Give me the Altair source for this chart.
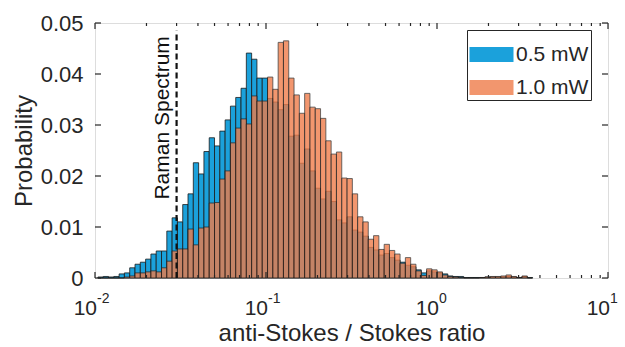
import altair as alt
import pandas as pd

# ---- histogram data (bins are uniform in log10 space) ----
series_names = ["0.5 mW", "1.0 mW"]
first_edge_log10 = -1.983
bin_width_log10 = 0.031

prob_05mw = [
    0.0002, 0.0003, 0.0002, 0.0003, 0.0008, 0.0010, 0.0020, 0.0027, 0.0031, 0.0037,
    0.0047, 0.0053, 0.0053, 0.0092, 0.0118, 0.0110, 0.0144, 0.0165, 0.0226, 0.0204,
    0.0248, 0.0275, 0.0259, 0.0288, 0.0310, 0.0337, 0.0354, 0.0372, 0.0441, 0.0429,
    0.0392, 0.0392, 0.0352, 0.0345, 0.0330, 0.0340, 0.0278, 0.0280, 0.0225, 0.0253,
    0.0210, 0.0176, 0.0155, 0.0170, 0.0150, 0.0114, 0.0108, 0.0120, 0.0094, 0.0090,
    0.0082, 0.0060, 0.0055, 0.0045, 0.0048, 0.0040, 0.0035, 0.0031, 0.0025, 0.0022,
    0.0016, 0.0010, 0.0014, 0.0012, 0.0010, 0.0008, 0.0004, 0.0003, 0.0003, 0.0001,
    0.0001, 0.0001, 0.0001, 0.0002, 0.0002, 0.0002, 0.0002, 0.0003, 0.0002, 0.0001,
    0.0003, 0.0001,
]
prob_10mw = [
    0.0, 0.0, 0.0, 0.0, 0.0, 0.0002, 0.0004, 0.0010, 0.0010, 0.0012,
    0.0014, 0.0012, 0.0020, 0.0033, 0.0053, 0.0057, 0.0057, 0.0096, 0.0065, 0.0098,
    0.0100, 0.0147, 0.0148, 0.0194, 0.0210, 0.0265, 0.0294, 0.0312, 0.0302, 0.0357,
    0.0347, 0.0347, 0.0394, 0.0370, 0.0462, 0.0465, 0.0392, 0.0359, 0.0323, 0.0362,
    0.0335, 0.0332, 0.0313, 0.0269, 0.0243, 0.0247, 0.0196, 0.0195, 0.0165, 0.0120,
    0.0110, 0.0076, 0.0083, 0.0056, 0.0066, 0.0054, 0.0047, 0.0029, 0.0040, 0.0027,
    0.0014, 0.0005, 0.0018, 0.0016, 0.0012, 0.0006, 0.0003, 0.0002, 0.0001, 0.0,
    0.0, 0.0, 0.0001, 0.0002, 0.0003, 0.0003, 0.0004, 0.0006, 0.0003, 0.0001,
    0.0004, 0.0,
]

# ---- axes / annotation ----
x_tick_values = [0.01, 0.1, 1, 10]
x_tick_bases = ["10", "10", "10", "10"]
x_tick_exponents = ["-2", "-1", "0", "1"]
x_minor_ticks = [m * 10.0 ** e for e in (-2, -1, 0) for m in range(2, 10)]
y_tick_values = [0, 0.01, 0.02, 0.03, 0.04, 0.05]
raman_position = 0.03
raman_line_top = 0.0485
raman_label = "Raman Spectrum"
raman_label_y = 0.0314

BLUE = "#1BA1DB"
ORANGE = "#EF7C4A"
INK = "#262626"
FONT = "Liberation Sans"
W, H = 513, 255

rows = []
for name, vals in zip(series_names, [prob_05mw, prob_10mw]):
    for k, v in enumerate(vals):
        rows.append({
            "series": name,
            "lo": 10 ** (first_edge_log10 + k * bin_width_log10),
            "hi": 10 ** (first_edge_log10 + (k + 1) * bin_width_log10),
            "p": v,
        })
hist = pd.DataFrame(rows)

xs = alt.Scale(type="log", domain=[0.01, 10], nice=False)
ys = alt.Scale(domain=[0, 0.05], nice=False)

x_axis = alt.Axis(
    values=x_tick_values, labels=False,
    title="anti-Stokes / Stokes ratio", titleFont=FONT, titleFontSize=24,
    titleFontWeight="normal", titleColor=INK, titleBaseline="alphabetic",
    titleY=62, titleX=W / 2,
    domain=False, ticks=False, grid=False)
y_axis = alt.Axis(
    values=y_tick_values,
    labelExpr="datum.value == 0 ? '0' : format(datum.value, '.2f')",
    labelFont=FONT, labelFontSize=22, labelColor=INK, labelPadding=12,
    labelFlush=False,
    title="Probability", titleFont=FONT, titleFontSize=24,
    titleFontWeight="normal", titleColor=INK, titleBaseline="alphabetic",
    titleX=-64, titleY=H / 2, titleAngle=270,
    domain=False, ticks=False, grid=False)


def X(field):
    return alt.X(field, scale=xs, axis=x_axis)


def Y(field, **kw):
    return alt.Y(field, scale=ys, axis=y_axis, **kw)


legend = alt.Legend(
    title=None, orient="none", legendX=372, legendY=7, direction="vertical",
    symbolType="M-1,-0.34H1V0.34H-1Z", symbolSize=1936,
    symbolStrokeColor="#1a1a1a", symbolStrokeWidth=1,
    labelFont=FONT, labelFontSize=21, labelColor=INK, labelOffset=2,
    strokeColor=INK, fillColor="white", padding=2, rowPadding=-7,
)

bars = alt.Chart(hist).mark_bar(stroke="#1a1a1a", strokeWidth=0.8).encode(
    x=X("lo:Q"),
    x2="hi:Q",
    y=Y("p:Q", stack=None),
    y2=alt.datum(0),
    color=alt.Color("series:N", scale=alt.Scale(domain=series_names, range=[BLUE, ORANGE]),
                    legend=legend),
    opacity=alt.Opacity("series:N", scale=alt.Scale(domain=series_names, range=[1.0, 0.8]),
                        legend=legend),
)

# x tick labels written as 10 with a raised exponent
lab_df = pd.DataFrame({"v": x_tick_values, "b": x_tick_bases, "e": x_tick_exponents})
bases = alt.Chart(lab_df).mark_text(
    align="right", baseline="alphabetic", dx=2, font=FONT, fontSize=21, color=INK
).encode(x=X("v:Q"), y=alt.value(H + 37), text="b:N")
exponents = alt.Chart(lab_df).mark_text(
    align="left", baseline="alphabetic", dx=2, font=FONT, fontSize=14, color=INK
).encode(x=X("v:Q"), y=alt.value(H + 25), text="e:N")

# inward ticks on all four sides
xmaj = pd.DataFrame({"v": x_tick_values})
xmin = pd.DataFrame({"v": x_minor_ticks})
ytk = pd.DataFrame({"v": y_tick_values})
tick_style = dict(color=INK, strokeWidth=1.2)
ticks = [
    alt.Chart(xmaj).mark_rule(**tick_style).encode(
        x=X("v:Q"), y=alt.value(H), y2=alt.value(H - 6)),
    alt.Chart(xmaj).mark_rule(**tick_style).encode(
        x=X("v:Q"), y=alt.value(0), y2=alt.value(6)),
    alt.Chart(xmin).mark_rule(**tick_style).encode(
        x=X("v:Q"), y=alt.value(H), y2=alt.value(H - 3)),
    alt.Chart(xmin).mark_rule(**tick_style).encode(
        x=X("v:Q"), y=alt.value(0), y2=alt.value(3)),
    alt.Chart(ytk).mark_rule(**tick_style).encode(
        y=Y("v:Q"), x=alt.value(0), x2=alt.value(6)),
    alt.Chart(ytk).mark_rule(**tick_style).encode(
        y=Y("v:Q"), x=alt.value(W - 6), x2=alt.value(W)),
]

# Raman reference line with rotated label
raman_df = pd.DataFrame({"x": [raman_position], "y0": [0.0], "y1": [raman_line_top],
                         "ly": [raman_label_y], "t": [raman_label]})
raman_line = alt.Chart(raman_df).mark_rule(
    color="#111111", strokeWidth=2.2, strokeDash=[6, 3.5]
).encode(x=X("x:Q"), y=Y("y0:Q"), y2="y1:Q")
raman_text = alt.Chart(raman_df).mark_text(
    angle=270, align="center", baseline="alphabetic", dy=-8,
    font=FONT, fontSize=21, color="#111111"
).encode(x=X("x:Q"), y=Y("ly:Q"), text="t:N")

chart = alt.layer(bars, *ticks, raman_line, raman_text, bases, exponents).properties(
    width=W, height=H,
    padding={"left": 95, "top": 23, "right": 17, "bottom": 69},
    autosize=alt.AutoSizeParams(type="none"),
).configure_view(stroke=INK, strokeWidth=1.6).configure(background="white")

chart.save("out.html", embed_options={"renderer": "svg", "actions": False})
